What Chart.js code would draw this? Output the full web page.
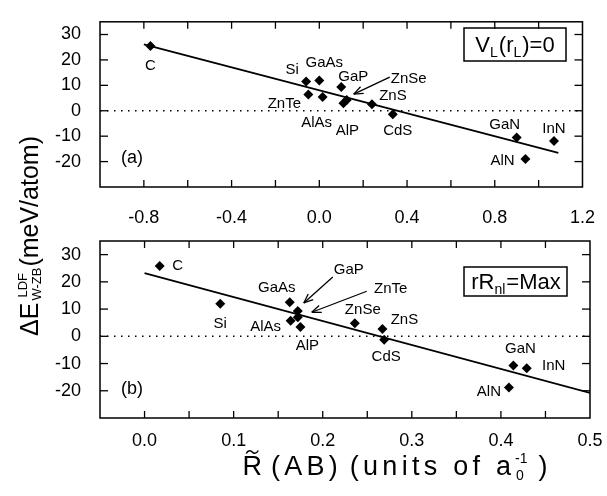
<!DOCTYPE html>
<html><head><meta charset="utf-8">
<script src="https://cdn.jsdelivr.net/npm/chart.js@4/dist/chart.umd.min.js"></script>
<style>
html,body{margin:0;padding:0;background:#fff;}
#wrap{position:relative;width:607px;height:496px;background:#fff;}
canvas{position:absolute;left:0;top:0;}
</style></head><body>
<div id="wrap"><canvas id="c1" width="607" height="496"></canvas><canvas id="c2" width="607" height="496"></canvas></div>
<script>
// ---------- data ----------
const NAMES = ['C','Si','GaAs','ZnTe','AlAs','GaP','AlP','ZnSe','ZnS','CdS','GaN','InN','AlN'];
// panel (a): V_L(r_L)=0
const TOP_X = [-0.77,-0.06,0.00,-0.05,0.015,0.10,0.11,0.125,0.24,0.335,0.90,1.07,0.94];
const TOP_Y = [25.5,11.5,11.9,6.4,5.4,9.3,3.0,4.2,2.6,-1.4,-10.5,-11.9,-19.0];
const TOP_FIT_X = [-0.80,1.09];
const TOP_FIT_Y = [26.1,-16.6];
const TOP_XRANGE = [-1.0,1.2];
const TOP_XTICKS = [-1.0,-0.8,-0.6,-0.4,-0.2,0.0,0.2,0.4,0.6,0.8,1.0,1.2];
const TOP_XLABELS = ['','-0.8','','-0.4','','0.0','','0.4','','0.8','','1.2'];
// panel (b): rR_nl=Max
const BOT_X = [0.017,0.085,0.163,0.172,0.164,0.172,0.175,0.236,0.267,0.269,0.414,0.429,0.409];
const BOT_Y = [25.8,12.0,12.5,7.0,5.7,9.3,3.4,4.8,2.7,-1.3,-10.7,-11.7,-18.8];
const BOT_FIT_X = [0.0,0.5];
const BOT_FIT_Y = [23.2,-20.8];
const BOT_XRANGE = [-0.05,0.5];
const BOT_XTICKS = [-0.05,0.0,0.05,0.1,0.15,0.2,0.25,0.3,0.35,0.4,0.45,0.5];
const BOT_XLABELS = ['','0.0','','0.1','','0.2','','0.3','','0.4','','0.5'];
// shared y
const YRANGE = [-30,35];
const YTICKS = [-20,-10,0,10,20,30];
const YLABELS = ['-20','-10','0','10','20','30'];

// ---------- styling / placement (pixels) ----------
const FONT = '"Liberation Sans", Arial, Helvetica, sans-serif';
const TOP_LABEL_OFF = {C:[0,20],Si:[-14,-12],GaAs:[5,-18],ZnTe:[-24,9],AlAs:[-6,26],GaP:[12,-10],
  AlP:[4,28],ZnSe:[62,-21],ZnS:[21,-8],CdS:[5,17],GaN:[-12,-13],InN:[0,-12],AlN:[-23,2]};
const TOP_ARROWS = [{name:'ZnSe',from:[43,-23],to:[7,-6]}];
const BOT_LABEL_OFF = {C:[18,0],Si:[0,20],GaAs:[-13,-14],ZnTe:[93,-28],AlAs:[-25,6],GaP:[51,-41],
  AlP:[7,19],ZnSe:[8,-13],ZnS:[22,-9],CdS:[2,17],GaN:[7,-17],InN:[27,-2],AlN:[-20,4]};
const BOT_ARROWS = [{name:'GaP',from:[35,-34],to:[6,-8]},{name:'ZnTe',from:[69,-26],to:[14,-5]}];

function line(ctx,x1,y1,x2,y2){ctx.beginPath();ctx.moveTo(x1,y1);ctx.lineTo(x2,y2);ctx.stroke();}
function arrow(ctx,x1,y1,x2,y2){
  line(ctx,x1,y1,x2,y2);
  const a=Math.atan2(y2-y1,x2-x1), L=10, s=0.38;
  line(ctx,x2,y2,x2-L*Math.cos(a-s),y2-L*Math.sin(a-s));
  line(ctx,x2,y2,x2-L*Math.cos(a+s),y2-L*Math.sin(a+s));
}

function decorPlugin(cfg){
  return {
    id:'decor',
    afterDraw(chart){
      const ctx=chart.ctx, a=chart.chartArea, xs=chart.scales.x, ys=chart.scales.y;
      ctx.save();
      ctx.strokeStyle='#000'; ctx.fillStyle='#000';
      ctx.lineWidth=1.5;
      ctx.strokeRect(a.left,a.top,a.right-a.left,a.bottom-a.top);
      ctx.lineWidth=1.3;
      xs.ticks.forEach(t=>{const p=xs.getPixelForValue(t.value);
        if(p<=a.left+1||p>=a.right-1) return;
        line(ctx,p,a.bottom,p,a.bottom-7); line(ctx,p,a.top,p,a.top+7);});
      ys.ticks.forEach(t=>{const p=ys.getPixelForValue(t.value);
        if(p<=a.top+1||p>=a.bottom-1) return;
        line(ctx,a.left,p,a.left+8,p); line(ctx,a.right,p,a.right-8,p);});
      const meta=chart.getDatasetMeta(0);
      ctx.font='15px '+FONT; ctx.textAlign='center'; ctx.textBaseline='middle';
      NAMES.forEach((n,i)=>{const el=meta.data[i]; const o=cfg.labelOff[n];
        ctx.fillText(n,el.x+o[0],el.y+o[1]);});
      ctx.lineWidth=1.3;
      cfg.arrows.forEach(ar=>{const el=meta.data[NAMES.indexOf(ar.name)];
        arrow(ctx,el.x+ar.from[0],el.y+ar.from[1],el.x+ar.to[0],el.y+ar.to[1]);});
      ctx.font='18px '+FONT; ctx.textAlign='left';
      ctx.fillText(cfg.tag,a.left+21,a.bottom-29);
      cfg.drawBox(ctx);
      cfg.extra && cfg.extra(ctx);
      ctx.restore();
    }
  };
}

function textW(ctx,t,ls){ls=ls||0; let w=0; for(const ch of t) w+=ctx.measureText(ch).width+ls; return ls?w-ls:ctx.measureText(t).width;}
function fillSpaced(ctx,t,x,y,ls){
  if(!ls){ctx.fillText(t,x,y);return;}
  for(const ch of t){ctx.fillText(ch,x,y); x+=ctx.measureText(ch).width+ls;}
}
function runs(ctx,parts,x,y,measureOnly){
  const x0=x;
  parts.forEach(p=>{
    if(p.stack){
      let w=0;
      p.stack.forEach(q=>{ctx.font=q.size+'px '+FONT; if(!measureOnly) ctx.fillText(q.t,x+(q.dx||0),y+q.dy); w=Math.max(w,ctx.measureText(q.t).width+(q.dx||0));});
      x+=w+(p.gap||0);
    } else {
      ctx.font=p.size+'px '+FONT; if(!measureOnly) fillSpaced(ctx,p.t,x,y+(p.dy||0),p.ls); x+=textW(ctx,p.t,p.ls)+(p.gap||0);
    }
  });
  return x-x0;
}

function drawBoxTop(ctx){
  ctx.lineWidth=1.5; ctx.strokeRect(464,28,102,33);
  ctx.textAlign='left'; ctx.textBaseline='alphabetic';
  const parts=[{t:'V',size:22},{t:'L',size:14,dy:5,gap:1},{t:'(r',size:22},{t:'L',size:14,dy:5,gap:1},{t:')=0',size:22}];
  const w=runs(ctx,parts,0,0,true); runs(ctx,parts,515-w/2,52);
}
function drawBoxBot(ctx){
  ctx.lineWidth=1.5; ctx.strokeRect(464,267,103,29);
  ctx.textAlign='left'; ctx.textBaseline='alphabetic';
  const parts=[{t:'rR',size:22},{t:'nl',size:14,dy:5,gap:1},{t:'=Max',size:22}];
  const w=runs(ctx,parts,0,0,true); runs(ctx,parts,516-w/2,289);
}
function drawYTitle(ctx){
  ctx.save(); ctx.translate(38,236); ctx.rotate(-Math.PI/2);
  ctx.textAlign='left'; ctx.textBaseline='alphabetic';
  const parts=[{t:'\u0394E',size:25,gap:2},{stack:[{t:'LDF',size:13,dy:-11,dx:3},{t:'W-ZB',size:13,dy:3}],gap:1},{t:'(meV/atom)',size:25}];
  const w=runs(ctx,parts,0,0,true); runs(ctx,parts,-w/2,0);
  ctx.restore();
}
function drawXTitle(ctx){
  ctx.textAlign='left'; ctx.textBaseline='alphabetic';
  const SZ=27, TARGET=305;
  const mk=ls=>[{t:'R',size:SZ,gap:9},{t:'(AB)',size:SZ,ls:ls,gap:12},{t:'(units of a',size:SZ,ls:ls,gap:4},
    {stack:[{t:'-1',size:14,dy:-12},{t:'0',size:14,dy:5,dx:1}],gap:11},{t:')',size:SZ}];
  const nat=runs(ctx,mk(0),0,0,true);
  const ls=Math.max(0,(TARGET-nat)/13);
  const parts=mk(ls);
  const w=runs(ctx,parts,0,0,true); const x0=395-w/2, y=475;
  runs(ctx,parts,x0,y);
  ctx.font=SZ+'px '+FONT; const rw=ctx.measureText('R').width;
  const cx=x0+rw/2, cy=452;
  ctx.lineWidth=1.4; ctx.beginPath();
  ctx.moveTo(cx-6,cy+1.5); ctx.bezierCurveTo(cx-4,cy-2.5,cx-1,cy-1.5,cx,cy); ctx.bezierCurveTo(cx+1,cy+1.5,cx+4,cy+2.5,cx+6,cy-1.5); ctx.stroke();
}

function makeChart(id,cfg){
  return new Chart(document.getElementById(id),{
    type:'scatter',
    data:{datasets:[
      {data:cfg.xs.map((x,i)=>({x,y:cfg.ys[i]})),pointStyle:'rectRot',pointRadius:5,pointHoverRadius:5,
       backgroundColor:'#000',borderColor:'#000',borderWidth:0,order:0},
      {data:cfg.fitX.map((x,i)=>({x,y:cfg.fitY[i]})),showLine:true,pointRadius:0,borderColor:'#000',borderWidth:1.7,order:1},
      {data:[{x:cfg.xr[0],y:0},{x:cfg.xr[1],y:0}],showLine:true,pointRadius:0,borderColor:'#000',borderWidth:1.4,borderDash:[1.5,5.5],order:2}
    ]},
    options:{
      responsive:false,animation:false,events:[],
      layout:{padding:{top:cfg.padTop,right:17,left:0,bottom:0}},
      plugins:{legend:{display:false},tooltip:{enabled:false}},
      scales:{
        x:{type:'linear',min:cfg.xr[0],max:cfg.xr[1],grid:{display:false},border:{display:false},
          afterBuildTicks:s=>{s.ticks=cfg.xticks.map(v=>({value:v}));},
          afterFit:s=>{s.height=cfg.xAxisH;},
          ticks:{autoSkip:false,maxRotation:0,minRotation:0,padding:cfg.xPad,color:'#000',font:{family:FONT,size:18},
            callback:(v,i)=>cfg.xlabels[i]}},
        y:{type:'linear',min:YRANGE[0],max:YRANGE[1],grid:{display:false},border:{display:false},
          afterBuildTicks:s=>{s.ticks=YTICKS.map(v=>({value:v}));},
          afterFit:s=>{s.width=100;},
          ticks:{autoSkip:false,padding:11,color:'#000',font:{family:FONT,size:18},
            callback:(v,i)=>YLABELS[i]}}
      }
    },
    plugins:[decorPlugin(cfg)]
  });
}

makeChart('c1',{xs:TOP_X,ys:TOP_Y,fitX:TOP_FIT_X,fitY:TOP_FIT_Y,xr:TOP_XRANGE,xticks:TOP_XTICKS,xlabels:TOP_XLABELS,
  padTop:9,xAxisH:309,xPad:12,labelOff:TOP_LABEL_OFF,arrows:TOP_ARROWS,tag:'(a)',drawBox:drawBoxTop,extra:drawYTitle});
makeChart('c2',{xs:BOT_X,ys:BOT_Y,fitX:BOT_FIT_X,fitY:BOT_FIT_Y,xr:BOT_XRANGE,xticks:BOT_XTICKS,xlabels:BOT_XLABELS,
  padTop:241,xAxisH:78,xPad:4,labelOff:BOT_LABEL_OFF,arrows:BOT_ARROWS,tag:'(b)',drawBox:drawBoxBot,extra:drawXTitle});
</script>
</body></html>
